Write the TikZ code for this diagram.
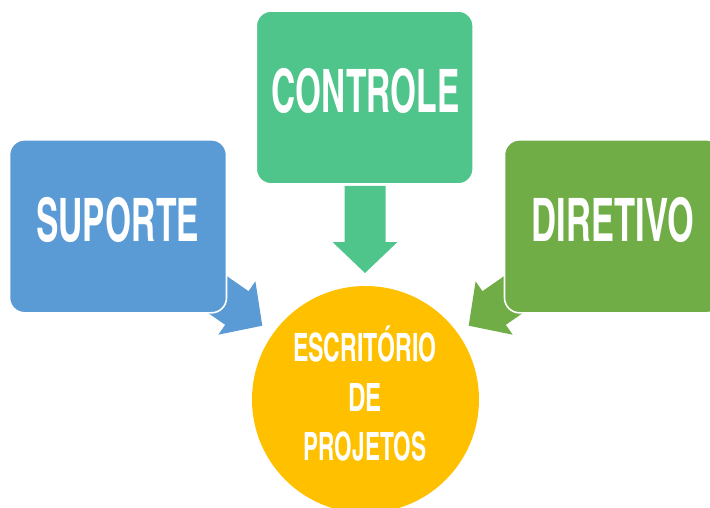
\documentclass[tikz,border=0pt]{standalone}
\usepackage{fontspec}
\usepackage{graphicx}
\newfontfamily\cnfont{texgyreheroscn-bold.otf}
\definecolor{cblue}{HTML}{5B9BD5}
\definecolor{cgreen}{HTML}{4FC48B}
\definecolor{cdgreen}{HTML}{70AD47}
\definecolor{corange}{HTML}{FFC000}
\newcommand\fitw[2]{\resizebox{#1}{\height}{#2}}
\begin{document}
\begin{tikzpicture}[x=1pt,y=-1pt,
  box/.style={draw=white, line width=1.6pt, rounded corners=15pt,
    minimum width=217pt, minimum height=173pt, inner sep=0pt},
  lbl/.style={text=white, anchor=base, inner sep=0pt},
  bigtxt/.style={font=\cnfont\fontsize{60}{60}\selectfont},
  smalltxt/.style={font=\cnfont\fontsize{39}{39}\selectfont}]
\useasboundingbox (0,0) rectangle (710,508);
\clip (0,0) rectangle (710,508);
% block arrows
\begin{scope}[shift={(365,273)}, rotate=-90]
  \fill[cgreen] (0,0) -- (-31,-32.5) -- (-31,-20.5) -- (-87,-20.5) -- (-87,20.5) -- (-31,20.5) -- (-31,32.5) -- cycle;
\end{scope}
\begin{scope}[shift={(262.3,325.7)}, rotate=-34.8]
  \fill[cblue] (0,0) -- (-31,-32.5) -- (-31,-20.5) -- (-87,-20.5) -- (-87,20.5) -- (-31,20.5) -- (-31,32.5) -- cycle;
\end{scope}
\begin{scope}[shift={(468.7,325.7)}, rotate=214.8]
  \fill[cdgreen] (0,0) -- (-31,-32.5) -- (-31,-20.5) -- (-87,-20.5) -- (-87,20.5) -- (-31,20.5) -- (-31,32.5) -- cycle;
\end{scope}
% boxes
\node[box, fill=cblue] (sup) at (118,226.3) {};
\node[box, fill=cgreen] (con) at (364.7,97.5) {};
\node[box, fill=cdgreen] (dir) at (613,226.3) {};
\node[circle, fill=corange, minimum size=227pt, inner sep=0pt] (esc) at (365.5,399.5) {};
% labels
\node[lbl, bigtxt] (tsup) at (117.7,241.7) {\fitw{163pt}{SUPORTE}};
\node[lbl, bigtxt] (tcon) at (365.5,112.7) {\fitw{188pt}{CONTROLE}};
\node[lbl, bigtxt] (tdir) at (612.9,241.7) {\fitw{162pt}{DIRETIVO}};
\node[lbl, smalltxt] (tesc1) at (365,361) {\fitw{144pt}{ESCRITÓRIO}};
\node[lbl, smalltxt] (tesc2) at (365,411) {\fitw{33.5pt}{DE}};
\node[lbl, smalltxt] (tesc3) at (365,460) {\fitw{123pt}{PROJETOS}};
\end{tikzpicture}
\end{document}
